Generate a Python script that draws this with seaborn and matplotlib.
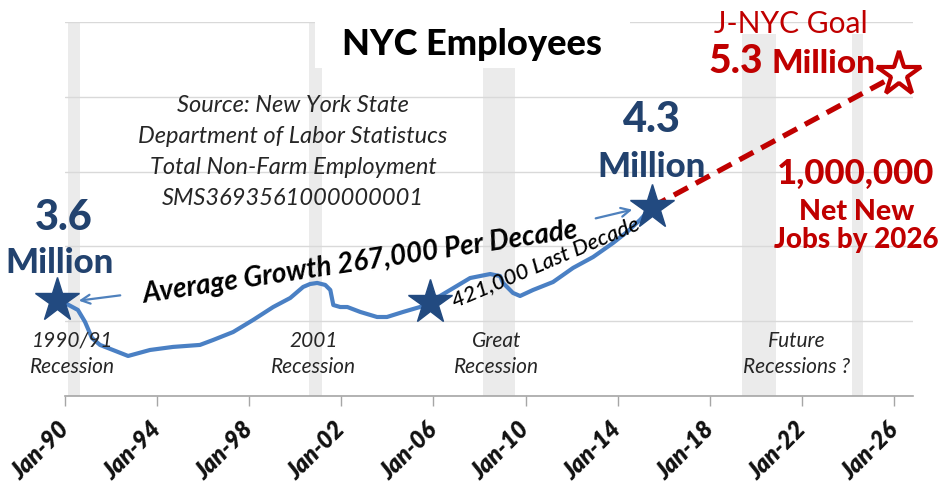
import numpy as np
import pandas as pd
import seaborn as sns
import matplotlib.pyplot as plt
from matplotlib.patches import Rectangle

# NYC total non-farm employment (millions)
years = [1990.0, 1990.56, 1990.87, 1991.17, 1991.52, 1992.08, 1992.74, 1993.69, 1994.69, 1995.86,
         1996.43, 1997.30, 1998.17, 1999.04, 1999.78, 2000.34, 2000.64, 2000.95, 2001.30, 2001.52,
         2001.65, 2001.95, 2002.26, 2002.82, 2003.55, 2003.98, 2004.68, 2005.41, 2005.85, 2006.72,
         2007.59, 2008.46, 2008.89, 2009.02, 2009.45, 2009.76, 2010.32, 2011.19, 2012.06, 2012.93,
         2013.80, 2014.40, 2014.97, 2015.49]
employment = [3.577, 3.525, 3.435, 3.314, 3.262, 3.224, 3.179, 3.224, 3.247, 3.262,
              3.299, 3.359, 3.450, 3.547, 3.615, 3.698, 3.720, 3.728, 3.713, 3.675,
              3.562, 3.547, 3.547, 3.510, 3.472, 3.472, 3.510, 3.547, 3.585, 3.675,
              3.765, 3.795, 3.780, 3.728, 3.653, 3.630, 3.675, 3.735, 3.841, 3.923,
              4.029, 4.111, 4.202, 4.299]

# milestone stars and the J-NYC goal path
star_years = [1989.65, 2005.85, 2015.49]
star_values = [3.6, 3.585, 4.3]
goal_years = [2015.49, 2026.2]
goal_values = [4.3, 5.3]

# recession shading (start, end)
recessions = [(1990.13, 1990.65), (2000.59, 2001.16), (2008.15, 2009.54)]
future_recessions = [(2019.40, 2020.87), (2024.17, 2024.65)]

tick_years = list(range(1990, 2027, 4))
tick_labels = ["Jan-%02d" % (y % 100) for y in tick_years]

W, H = 941, 484
NAVY = "#22426e"
STAR = "#224a80"
BLUE = "#4a80c4"
RED = "#c00000"


def px(x, y):
    """pixel position (from top-left) -> figure fraction"""
    return (x / W, 1 - y / H)


sns.set_theme(style="white")
plt.rcParams["font.family"] = ["Lato", "DejaVu Sans"]

fig = plt.figure(figsize=(W / 100, H / 100), dpi=100)
ax = fig.add_axes([65 / W, (H - 396) / H, (913 - 65) / W, (396 - 22) / H])

for a, b in recessions:
    ax.axvspan(a, b, color="#ebebeb", lw=0, zorder=0)
for a, b in future_recessions:
    ax.axvspan(a, b, ymin=-0.004, ymax=0.968, color="#ebebeb", lw=0, zorder=0)

df = pd.DataFrame({"year": years, "jobs": employment})
sns.lineplot(data=df, x="year", y="jobs", ax=ax, color=BLUE, lw=3.0, zorder=3)

ax.plot(goal_years, goal_values, color=RED, lw=3.8, ls=(0, (3, 1.7)),
        dash_capstyle="butt", zorder=3)
ax.plot(star_years, star_values, ls="none", marker="*", ms=33, color=STAR,
        mec=STAR, zorder=5, clip_on=False)
ax.plot(goal_years[-1:], goal_values[-1:], ls="none", marker="*", ms=33,
        mfc="white", mec=RED, mew=3.0, zorder=5, clip_on=False)

ax.set_xlim(1990, 2026.82)
ax.set_ylim(2.878, 5.69)
ax.set_yticks(np.linspace(2.878, 5.69, 6))
ax.set_yticklabels([])
ax.grid(axis="y", color="#d9d9d9", lw=1)
ax.set_axisbelow(True)
ax.set_xlabel("")
ax.set_ylabel("")
for s in ["top", "right", "left"]:
    ax.spines[s].set_visible(False)
ax.spines["bottom"].set_color("#a6a6a6")
ax.spines["bottom"].set_linewidth(1.2)

ax.set_xticks(tick_years)
ax.set_xticklabels(tick_labels, rotation=45, ha="right", va="center",
                   rotation_mode="anchor", fontsize=17, fontweight="heavy",
                   fontstyle="italic", color="#111111")
ax.tick_params(axis="x", bottom=True, direction="out", length=7.5, width=1,
               color="#a6a6a6", pad=14)
ax.tick_params(axis="y", left=False)

# white box behind the title
fig.add_artist(Rectangle(px(315, 68), 315 / W, 68 / H, transform=fig.transFigure,
                         facecolor="white", edgecolor="none", zorder=3))
fig.text(*px(472, 55), "NYC Employees", ha="center", va="baseline",
         fontsize=26, fontweight="black", color="black", zorder=4)

source = ["Source: New York State", "Department of Labor Statistucs",
          "Total Non-Farm Employment", "SMS3693561000000001"]
for i, line in enumerate(source):
    fig.text(*px(293, 112 + 31 * i), line, ha="center", va="baseline",
             fontsize=17, fontstyle="italic", color="#262626", zorder=4)

# recession labels
rec_text = [(73, "1990/91", "Recession"), (314, "2001", "Recession"),
            (497, "Great", "Recession"), (797, "Future", "Recessions ?")]
for x, l1, l2 in rec_text:
    fig.text(*px(x, 347), l1, ha="center", va="baseline", fontsize=15,
             fontstyle="italic", color="#262626", zorder=4)
    fig.text(*px(x, 373), l2, ha="center", va="baseline", fontsize=15,
             fontstyle="italic", color="#262626", zorder=4)

# milestone labels
fig.text(*px(64, 230), "3.6", ha="center", va="baseline", fontsize=30,
         fontweight="black", color=NAVY, zorder=4)
fig.text(*px(60, 273), "Million", ha="center", va="baseline", fontsize=25,
         fontweight="black", color=NAVY, zorder=4)
fig.text(*px(652, 132), "4.3", ha="center", va="baseline", fontsize=30,
         fontweight="black", color=NAVY, zorder=4)
fig.text(*px(652, 177), "Million", ha="center", va="baseline", fontsize=25,
         fontweight="black", color=NAVY, zorder=4)

fig.text(*px(791, 33), "J-NYC Goal", ha="center", va="baseline", fontsize=21.5,
         color=RED, zorder=4)
fig.text(*px(736, 73), "5.3", ha="center", va="baseline", fontsize=28,
         fontweight="black", color=RED, zorder=4)
fig.text(*px(824, 73), "Million", ha="center", va="baseline", fontsize=24,
         fontweight="black", color=RED, zorder=4)
fig.text(*px(856, 184), "1,000,000", ha="center", va="baseline", fontsize=25,
         fontweight="black", color=RED, zorder=4)
fig.text(*px(857, 220), "Net New", ha="center", va="baseline", fontsize=20.5,
         fontweight="black", color=RED, zorder=4)
fig.text(*px(856, 248), "Jobs by 2026", ha="center", va="baseline", fontsize=20,
         fontweight="black", color=RED, zorder=4)

# growth annotations
fig.text(*px(360, 263), "Average Growth 267,000 Per Decade", ha="center",
         va="center", rotation=8.5, rotation_mode="anchor", fontsize=20,
         fontweight="bold", fontstyle="italic", color="black", zorder=4)
fig.text(*px(546, 262), "421,000 Last Decade", ha="center", va="center",
         rotation=23, rotation_mode="anchor", fontsize=16,
         fontstyle="italic", fontweight="medium", color="black", zorder=4)

arrow = dict(arrowstyle="->", color="#4f81bd", lw=1.6, mutation_scale=16)
ax.annotate("", xy=px(76, 301), xytext=px(123, 295), xycoords="figure fraction",
            textcoords="figure fraction", arrowprops=arrow, zorder=6)
ax.annotate("", xy=px(635, 209), xytext=px(593, 219), xycoords="figure fraction",
            textcoords="figure fraction", arrowprops=arrow, zorder=6)

fig.savefig("out.png", dpi=100)
